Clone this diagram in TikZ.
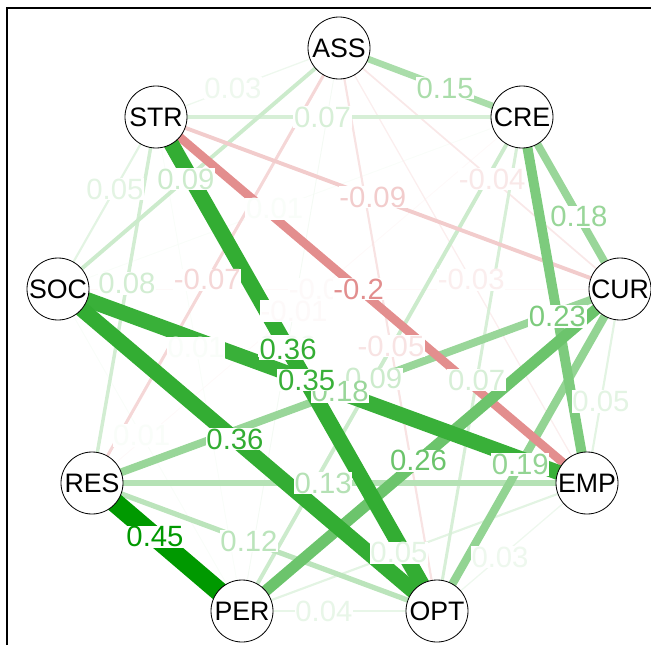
\documentclass[tikz,border=0pt]{standalone}
\usepackage{fontspec}
\setmainfont{Liberation Sans}
\usetikzlibrary{backgrounds}
\definecolor{posc}{HTML}{009900}
\definecolor{negc}{HTML}{BF0000}
% edges: from/to/weight/label position, weakest first
\def\edgelist{CRE/RES/-0.01/0.53, CUR/SOC/-0.01/0.53, CRE/SOC/0.01/0.533,
  PER/SOC/0.01/0.545, PER/STR/0.01/0.533, ASS/PER/0.02/0.53,
  ASS/EMP/-0.03/0.533, ASS/STR/0.03/0.58, EMP/OPT/0.03/0.58,
  ASS/CUR/-0.04/0.545, OPT/PER/0.04/0.58, ASS/OPT/-0.05/0.53,
  CUR/EMP/0.05/0.58, EMP/PER/0.05/0.545, SOC/STR/0.05/0.58,
  ASS/RES/-0.07/0.533, CRE/OPT/0.07/0.533, CRE/STR/0.07/0.545,
  RES/STR/0.08/0.545, ASS/SOC/0.09/0.545, CRE/PER/0.09/0.53,
  CUR/STR/-0.09/0.533, OPT/RES/0.12/0.545, EMP/RES/0.13/0.533,
  ASS/CRE/0.15/0.58, CRE/CUR/0.18/0.58, CUR/RES/0.18/0.53,
  CUR/OPT/0.19/0.545, EMP/STR/-0.2/0.53, CRE/EMP/0.23/0.545,
  CUR/PER/0.26/0.533, EMP/SOC/0.35/0.53, OPT/SOC/0.36/0.533,
  OPT/STR/0.36/0.53, PER/RES/0.45/0.58}

\begin{document}
\begin{tikzpicture}[x=0.03cm, y=-0.03cm,
  vtx/.style={circle,draw,line width=0.7pt,fill=white,minimum size=1.86cm,inner sep=0pt,
              font=\fontsize{22.8}{24}\selectfont},
  lbl/.style={fill=white,inner sep=0.6pt,font=\fontsize{25}{27}\selectfont}
]
\useasboundingbox (0,0) rectangle (651,645);
\draw[line width=1.7pt] (7,645) -- (7,8) -- (651,8);

\node[vtx] (ASS) at (339,48) {ASS};
\node[vtx] (CRE) at (522,117) {CRE};
\node[vtx] (CUR) at (620,289) {CUR};
\node[vtx] (EMP) at (587,483) {EMP};
\node[vtx] (OPT) at (437,611) {OPT};
\node[vtx] (PER) at (242,611) {PER};
\node[vtx] (RES) at (92,483) {RES};
\node[vtx] (SOC) at (58,289) {SOC};
\node[vtx] (STR) at (156,117) {STR};

\foreach \a/\b/\w/\p in \edgelist {
  \pgfmathsetmacro\aw{abs(\w)}
  \pgfmathsetmacro\pct{100*\aw/0.45}
  \pgfmathsetmacro\lw{max(0.8,37*\aw)}
  \ifdim\w pt<0pt \def\ec{negc}\else\def\ec{posc}\fi
  \begin{pgfonlayer}{background}
    \draw[line width=\lw pt, draw=\ec!\pct!white] (\a.center) -- (\b.center);
  \end{pgfonlayer}
  \path (\a.center) -- node[lbl, text=\ec!\pct!white, pos=\p] {\w} (\b.center);
}
\end{tikzpicture}
\end{document}
